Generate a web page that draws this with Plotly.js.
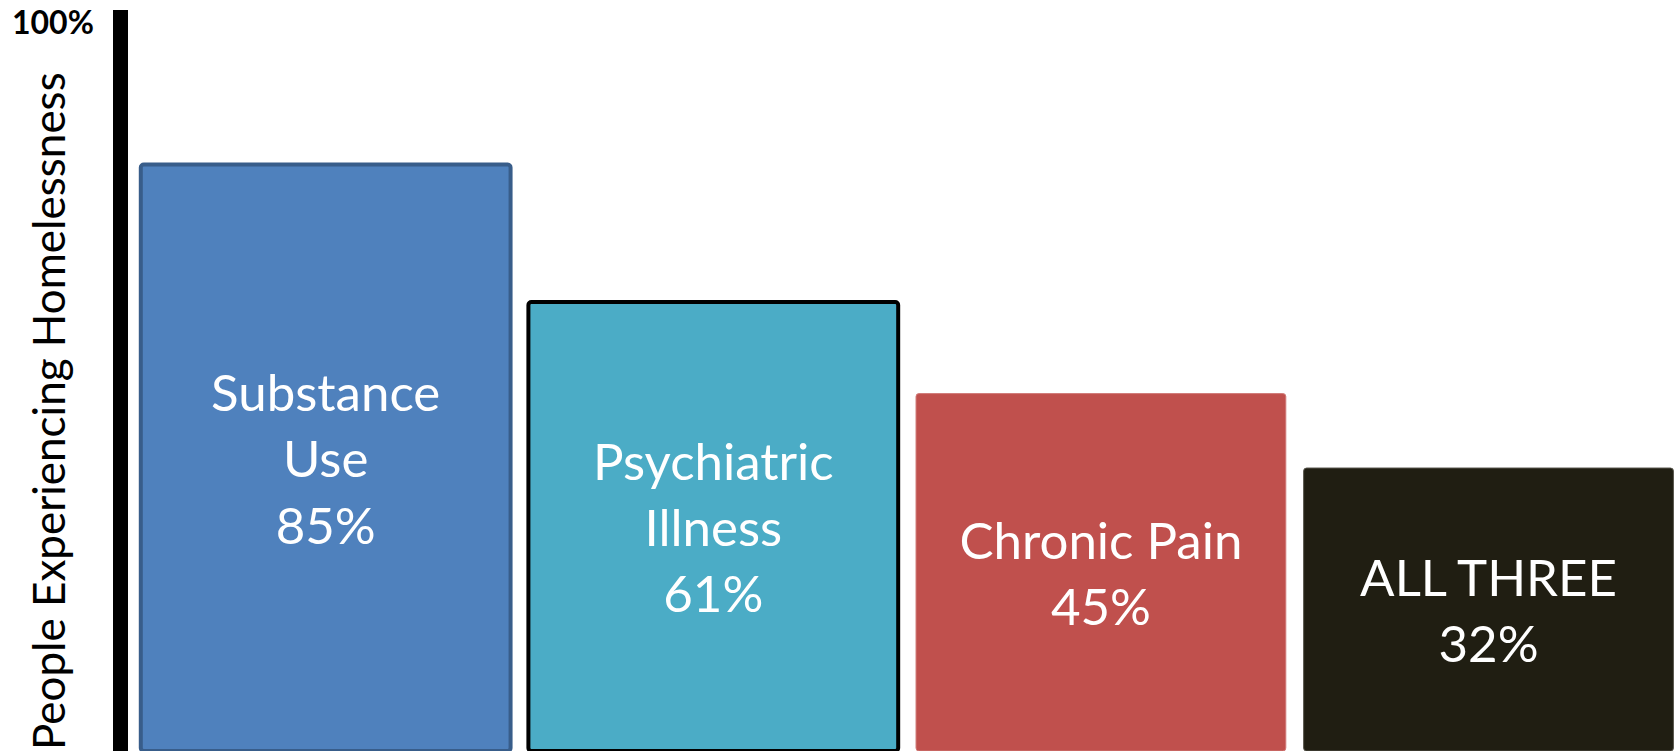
<!DOCTYPE html>
<html>
<head>
<meta charset="utf-8">
<script src="https://cdn.plot.ly/plotly-3.0.1.min.js"></script>
<style>
  html, body { margin: 0; padding: 0; background: #ffffff; overflow: hidden; }
  #chart { width: 1680px; height: 751px; }
</style>
</head>
<body>
<div id="chart"></div>
<script>
// ---- data ----
const categories = ["Substance Use", "Psychiatric Illness", "Chronic Pain", "All Three"];
const barLabels = ["Substance<br>Use", "Psychiatric<br>Illness", "Chronic Pain", "ALL THREE"];
const values = [85, 61, 45, 32];
const topTickLabel = "100%";
const yTitle = "People Experiencing Homelessness";

// ---- styles ----
const fillColors = ["#4F81BD", "#4BACC6", "#C0504D", "#201E12"];
const lineColors = ["#385D8A", "#000000", "#D07A78", "#55534A"];
const lineWidths = [4, 4, 1, 1];
const yMin = -17.41, yMax = 111.98;

// floating bars: each bar spans from the bottom of the axis (yMin) up to its value
const trace = {
  type: "bar",
  x: categories,
  base: yMin,
  y: values.map(v => v - yMin),
  text: barLabels.map((l, i) => l + "<br>" + values[i] + "%"),
  textposition: "inside",
  insidetextanchor: "middle",
  textangle: 0,
  textfont: { family: "Lato, 'Open Sans', sans-serif", size: 51, color: "#ffffff" },
  hoverinfo: "none",
  marker: {
    color: fillColors,
    line: { color: lineColors, width: lineWidths },
    cornerradius: 3
  }
};

const layout = {
  width: 1680,
  height: 751,
  margin: { l: 128, r: 0, t: 10, b: 0, pad: 0 },
  paper_bgcolor: "#ffffff",
  plot_bgcolor: "#ffffff",
  showlegend: false,
  bargap: 0.046,
  xaxis: {
    type: "category",
    range: [-0.51, 3.494],
    showticklabels: false,
    showgrid: false,
    zeroline: false,
    showline: false,
    ticks: ""
  },
  yaxis: {
    range: [yMin, yMax],
    showticklabels: false,
    showgrid: false,
    zeroline: false,
    showline: true,
    linecolor: "#000000",
    linewidth: 15,
    ticks: ""
  },
  annotations: [
    {
      text: "<b>" + topTickLabel + "</b>",
      xref: "paper", yref: "paper",
      x: (53 - 128) / 1552, y: (751 - 21) / 741,
      xanchor: "center", yanchor: "middle",
      showarrow: false,
      font: { family: "Lato, sans-serif", size: 32, color: "#000000" }
    },
    {
      text: yTitle,
      xref: "paper", yref: "paper",
      x: (48 - 128) / 1552, y: (751 - 411) / 741,
      xanchor: "center", yanchor: "middle",
      textangle: -90,
      showarrow: false,
      font: { family: "Lato, sans-serif", size: 44, color: "#000000" }
    }
  ]
};

Plotly.newPlot("chart", [trace], layout, { staticPlot: true, displayModeBar: false });
</script>
</body>
</html>
